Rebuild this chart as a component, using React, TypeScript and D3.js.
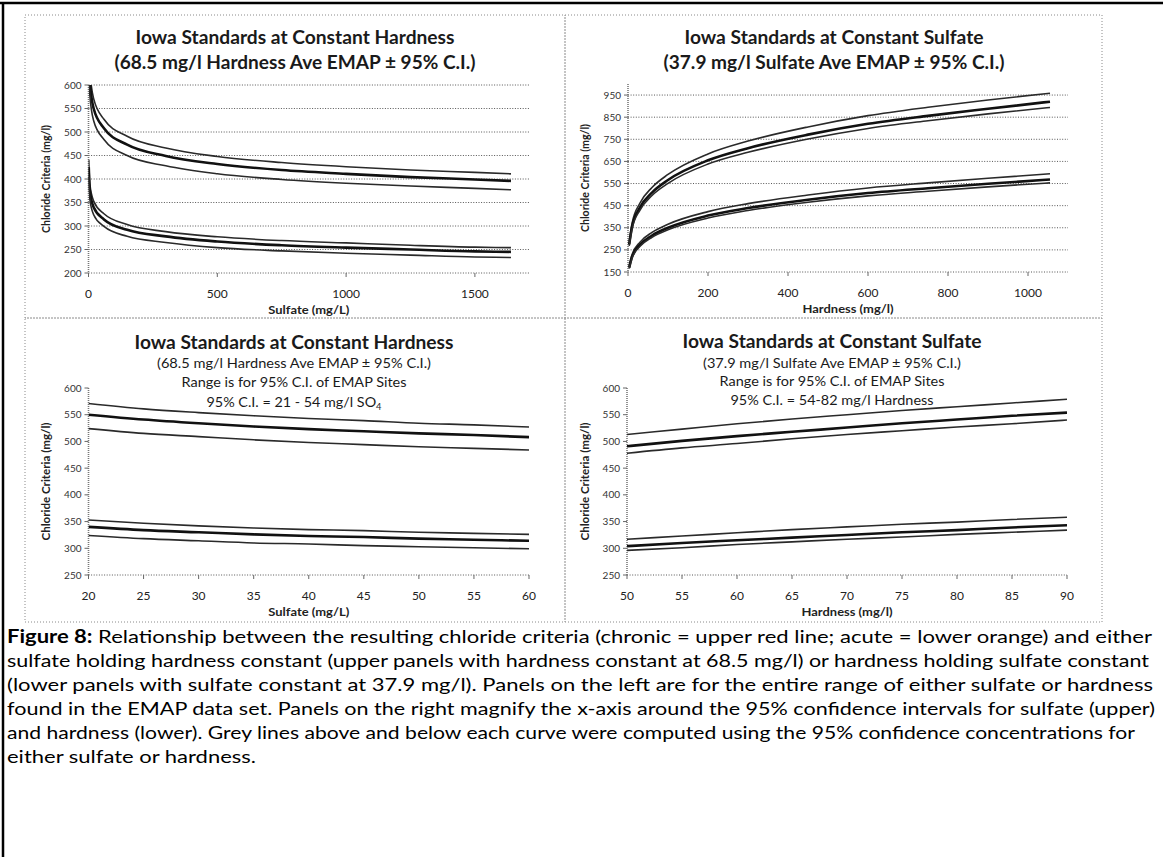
import React from "react";
import * as d3 from "d3";

// ---- values ----

// top-left: whole sulfate range, hardness held at 68.5 mg/l (+/- 95% C.I.)
const sulfateWide = [1, 5, 20, 60, 150, 300, 500, 750, 1000, 1250, 1500, 1640];
const acuteHiA = [713, 632, 571, 527, 491, 466, 448, 435, 426, 419, 414, 411];
const acuteA = [687, 609, 550, 508, 473, 449, 432, 419, 411, 404, 399, 396];
const acuteLoA = [654, 580, 524, 484, 450, 428, 411, 399, 391, 385, 380, 377];
const chronHiA = [441, 390, 353, 326, 303, 288, 277, 269, 264, 259, 255, 254];
const chronA = [425, 376, 340, 314, 292, 278, 267, 259, 254, 250, 246, 245];
const chronLoA = [405, 358, 324, 299, 278, 265, 254, 247, 242, 238, 234, 233];

// top-right: whole hardness range, sulfate held at 37.9 mg/l
const hardnessWide = [3, 10, 30, 60, 100, 200, 300, 450, 600, 750, 900, 1055];
const acuteHiB = [287, 369, 462, 532, 591, 684, 742, 806, 857, 895, 928, 958];
const acuteB = [275, 353, 442, 509, 566, 655, 710, 771, 820, 856, 888, 920];
const acuteLoB = [268, 344, 430, 496, 551, 638, 691, 751, 799, 834, 865, 894];
const chronHiB = [178, 228, 285, 329, 366, 423, 459, 498, 530, 553, 574, 594];
const chronB = [170, 218, 273, 315, 350, 405, 439, 477, 507, 529, 549, 568];
const chronLoB = [166, 212, 266, 307, 341, 394, 428, 465, 494, 515, 535, 553];

// bottom-left: sulfate around its 95% C.I.
const sulfateNarrow = [20, 25, 30, 35, 40, 45, 50, 55, 60];
const acuteHiC = [571, 561, 554, 548, 543, 539, 534, 531, 527];
const acuteC = [550, 541, 534, 528, 523, 519, 515, 512, 508];
const acuteLoC = [524, 515, 509, 503, 498, 494, 490, 487, 484];
const chronHiC = [353, 347, 342, 338, 335, 333, 330, 328, 326];
const chronC = [340, 334, 330, 326, 323, 321, 318, 316, 314];
const chronLoC = [324, 318, 314, 310, 308, 305, 303, 301, 299];

// bottom-right: hardness around its 95% C.I.
const hardnessNarrow = [50, 55, 60, 65, 70, 75, 80, 85, 90];
const acuteHiD = [513, 523, 533, 542, 550, 558, 565, 572, 579];
const acuteD = [491, 501, 510, 518, 526, 534, 541, 548, 554];
const acuteLoD = [478, 488, 496, 505, 513, 520, 527, 533, 540];
const chronHiD = [317, 323, 329, 335, 340, 345, 349, 354, 358];
const chronD = [304, 310, 315, 320, 325, 330, 334, 339, 343];
const chronLoD = [296, 301, 307, 312, 317, 321, 326, 330, 334];

const ticksA = { x: [0, 500, 1000, 1500], y: [200, 250, 300, 350, 400, 450, 500, 550, 600] };
const ticksB = { x: [0, 200, 400, 600, 800, 1000], y: [150, 250, 350, 450, 550, 650, 750, 850, 950] };
const ticksC = { x: [20, 25, 30, 35, 40, 45, 50, 55, 60], y: [250, 300, 350, 400, 450, 500, 550, 600] };
const ticksD = { x: [50, 55, 60, 65, 70, 75, 80, 85, 90], y: [250, 300, 350, 400, 450, 500, 550, 600] };

const FONT = "Lato, 'Open Sans', sans-serif";

type TitleLine = { content: React.ReactNode; y: number; w: number; size: number; bold: boolean };

interface PanelProps {
  id: string;
  box: [number, number, number, number];
  plot: { left: number; right: number; top: number; bottom: number };
  xDomain: [number, number];
  yDomain: [number, number];
  ticks: { x: number[]; y: number[] };
  grid: boolean;
  xs: number[];
  curves: number[][];
  titles: TitleLine[];
  titleX: number;
  xTitle: string;
  xTitleW: number;
  yTitleX: number;
  yTitleW: number;
}

const Panel = (p: PanelProps) => {
  const x = d3.scaleLinear().domain(p.xDomain).range([p.plot.left, p.plot.right]);
  const y = d3.scaleLinear().domain(p.yDomain).range([p.plot.bottom, p.plot.top]);
  const line = d3
    .line<number>()
    .x((_, i) => x(p.xs[i]))
    .y((v) => y(v))
    .curve(d3.curveMonotoneX);
  const [bx0, by0, bx1, by1] = p.box;
  const midY = (p.plot.top + p.plot.bottom) / 2;
  const midX = (p.plot.left + p.plot.right) / 2;

  return (
    <g>
      <rect x={bx0} y={by0} width={bx1 - bx0} height={by1 - by0} fill="none"
        stroke="#8a8a8a" strokeWidth={1} strokeDasharray="1 2" />
      <clipPath id={p.id}>
        <rect x={p.plot.left} y={p.plot.top} width={p.plot.right - p.plot.left} height={p.plot.bottom - p.plot.top} />
      </clipPath>

      {/* gridlines (only the baseline on the zoomed panels) */}
      {p.ticks.y.filter((t) => p.grid || t === p.yDomain[0]).map((t) => (
        <line key={"g" + t} x1={p.plot.left} x2={p.plot.right} y1={y(t)} y2={y(t)}
          stroke="#444" strokeWidth={0.9} strokeDasharray="1 1.6" />
      ))}
      <line x1={p.plot.left} x2={p.plot.left} y1={p.plot.top} y2={p.plot.bottom}
        stroke="#777" strokeWidth={1.6} strokeDasharray="1 1" />

      {p.ticks.y.map((t) => (
        <g key={"y" + t}>
          <line x1={p.plot.left - 4} x2={p.plot.left} y1={y(t)} y2={y(t)} stroke="#666" strokeWidth={1} />
          <text x={p.plot.left - 7} y={y(t)} dy="0.35em" textAnchor="end" fontSize={10}
            fontFamily={FONT} fill="#333">{t}</text>
        </g>
      ))}
      {p.ticks.x.map((t) => (
        <g key={"x" + t}>
          <line x1={x(t)} x2={x(t)} y1={p.plot.bottom} y2={p.plot.bottom + 4} stroke="#666" strokeWidth={1} />
          <text x={x(t)} y={p.plot.bottom + 21} dy="0.35em" textAnchor="middle" fontSize={12}
            fontFamily={FONT} fill="#222">{t}</text>
        </g>
      ))}

      <g clipPath={`url(#${p.id})`} fill="none" strokeLinejoin="round">
        {p.curves.map((c, i) => (
          <path key={i} d={line(c) ?? ""} stroke={i % 3 === 1 ? "#111" : "#2a2a2a"}
            strokeWidth={i % 3 === 1 ? 2.6 : 1.6} />
        ))}
      </g>

      {p.titles.map((t, i) => (
        <text key={i} x={p.titleX} y={t.y} dy="0.35em" textAnchor="middle" fontFamily={FONT}
          fontSize={t.size} fontWeight={t.bold ? 700 : 400} fill="#1a1a1a"
          textLength={t.w} lengthAdjust="spacingAndGlyphs">{t.content}</text>
      ))}

      <text x={midX} y={p.plot.bottom + 37} dy="0.35em" textAnchor="middle" fontFamily={FONT}
        fontSize={10.5} fontWeight={700} fill="#222" textLength={p.xTitleW}
        lengthAdjust="spacingAndGlyphs">{p.xTitle}</text>
      <text transform={`translate(${p.yTitleX},${midY}) rotate(-90)`} dy="0.35em" textAnchor="middle"
        fontFamily={FONT} fontSize={10.5} fontWeight={700} fill="#222" textLength={p.yTitleW}
        lengthAdjust="spacingAndGlyphs">Chloride Criteria (mg/l)</text>
    </g>
  );
};

const captionLines: { bold?: string; text: string; w: number }[] = [
  { bold: "Figure 8:", text: " Relationship between the resulting chloride criteria (chronic = upper red line; acute = lower orange) and either", w: 1145 },
  { text: "sulfate holding hardness constant (upper panels with hardness constant at 68.5 mg/l) or hardness holding sulfate constant", w: 1142 },
  { text: "(lower panels with sulfate constant at 37.9 mg/l). Panels on the left are for the entire range of either sulfate or hardness", w: 1146 },
  { text: "found in the EMAP data set. Panels on the right magnify the x-axis around the 95% confidence intervals for sulfate (upper)", w: 1148 },
  { text: "and hardness (lower). Grey lines above and below each curve were computed using the 95% confidence concentrations for", w: 1128 },
  { text: "either sulfate or hardness.", w: 249 },
];

export default function App() {
  return (
    <svg width={1163} height={857} style={{ position: "absolute", left: 0, top: 0, background: "#fff" }}>
      <rect width={1163} height={857} fill="#fff" />

      <Panel id="clipA" box={[25, 15, 565, 318]} plot={{ left: 88.5, right: 529, top: 85, bottom: 273 }}
        xDomain={[0, 1710]} yDomain={[200, 600]} ticks={ticksA} grid xs={sulfateWide}
        curves={[acuteHiA, acuteA, acuteLoA, chronHiA, chronA, chronLoA]}
        titleX={295}
        titles={[
          { content: "Iowa Standards at Constant Hardness", y: 37, w: 319, size: 19, bold: true },
          { content: "(68.5 mg/l Hardness Ave EMAP \u00b1 95% C.I.)", y: 62, w: 361, size: 19, bold: true },
        ]}
        xTitle="Sulfate (mg/L)" xTitleW={81} yTitleX={46} yTitleW={108} />

      <Panel id="clipB" box={[565, 15, 1102, 318]} plot={{ left: 628, right: 1068, top: 84, bottom: 272 }}
        xDomain={[0, 1100]} yDomain={[150, 1000]} ticks={ticksB} grid xs={hardnessWide}
        curves={[acuteHiB, acuteB, acuteLoB, chronHiB, chronB, chronLoB]}
        titleX={834}
        titles={[
          { content: "Iowa Standards at Constant Sulfate", y: 37, w: 299, size: 19, bold: true },
          { content: "(37.9 mg/l Sulfate Ave EMAP \u00b1 95% C.I.)", y: 62, w: 341, size: 19, bold: true },
        ]}
        xTitle="Hardness (mg/l)" xTitleW={91} yTitleX={585} yTitleW={108} />

      <Panel id="clipC" box={[25, 318, 565, 622]} plot={{ left: 88.5, right: 529, top: 388, bottom: 575 }}
        xDomain={[20, 60]} yDomain={[250, 600]} ticks={ticksC} grid={false} xs={sulfateNarrow}
        curves={[acuteHiC, acuteC, acuteLoC, chronHiC, chronC, chronLoC]}
        titleX={294}
        titles={[
          { content: "Iowa Standards at Constant Hardness", y: 342, w: 319, size: 19, bold: true },
          { content: "(68.5 mg/l Hardness Ave EMAP \u00b1 95% C.I.)", y: 363, w: 274, size: 14, bold: false },
          { content: "Range is for 95% C.I. of EMAP Sites", y: 382, w: 225, size: 14, bold: false },
          {
            content: (<>95% C.I. = 21 - 54 mg/l SO<tspan fontSize={9} dy={3}>4</tspan></>),
            y: 402, w: 175, size: 14, bold: false,
          },
        ]}
        xTitle="Sulfate (mg/L)" xTitleW={81} yTitleX={46} yTitleW={118} />

      <Panel id="clipD" box={[565, 318, 1102, 622]} plot={{ left: 627, right: 1067, top: 388, bottom: 575 }}
        xDomain={[50, 90]} yDomain={[250, 600]} ticks={ticksD} grid={false} xs={hardnessNarrow}
        curves={[acuteHiD, acuteD, acuteLoD, chronHiD, chronD, chronLoD]}
        titleX={832}
        titles={[
          { content: "Iowa Standards at Constant Sulfate", y: 341, w: 299, size: 19, bold: true },
          { content: "(37.9 mg/l Sulfate Ave EMAP \u00b1 95% C.I.)", y: 363, w: 258, size: 14, bold: false },
          { content: "Range is for 95% C.I. of EMAP Sites", y: 381, w: 225, size: 14, bold: false },
          { content: "95% C.I. = 54-82 mg/l Hardness", y: 400, w: 203, size: 14, bold: false },
        ]}
        xTitle="Hardness (mg/l)" xTitleW={91} yTitleX={585} yTitleW={118} />

      {/* scanned page frame */}
      <line x1={0} x2={1163} y1={3} y2={3} stroke="#000" strokeWidth={2.5} />
      <line x1={3} x2={3} y1={2} y2={857} stroke="#000" strokeWidth={2.5} />

      {captionLines.map((l, i) => (
        <text key={i} x={7} y={637 + i * 24} dy="0.35em" fontFamily={FONT} fontSize={18} fill="#000"
          textLength={l.w} lengthAdjust="spacingAndGlyphs">
          {l.bold && <tspan fontWeight={700}>{l.bold}</tspan>}
          {l.text}
        </text>
      ))}
    </svg>
  );
}
